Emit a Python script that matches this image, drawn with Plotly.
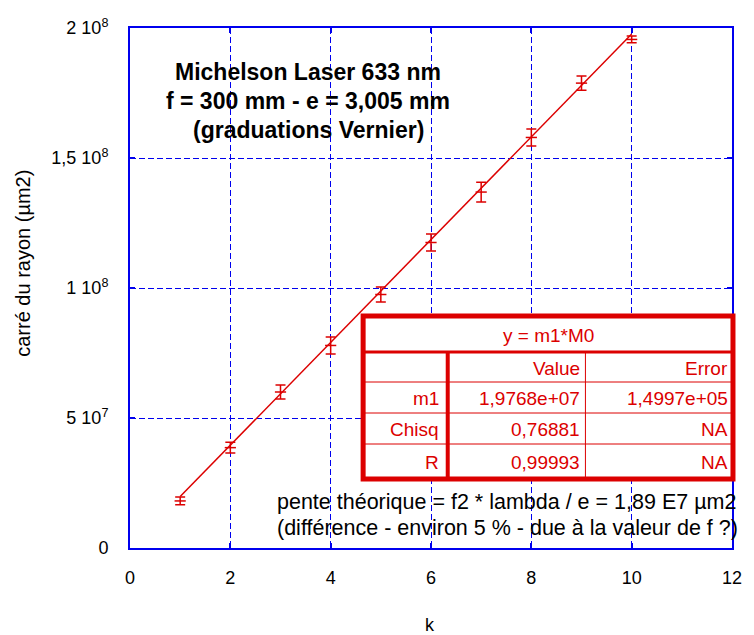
import plotly.graph_objects as go

# ---- data ----
k = [1, 2, 3, 4, 5, 6, 7, 8, 9, 10]
r2 = [0.181e8, 0.386e8, 0.600e8, 0.779e8, 0.975e8, 1.175e8, 1.369e8, 1.579e8, 1.788e8, 1.956e8]
r2_err = [1.5e6, 2.1e6, 2.7e6, 3.3e6, 2.9e6, 3.3e6, 3.8e6, 3.3e6, 2.7e6, 1.3e6]
m1 = 1.9768e7
fit_k = [1, 10]
fit_r2 = [m1 * v for v in fit_k]

x_ticks = [0, 2, 4, 6, 8, 10, 12]
y_ticks = [0, 5e7, 1e8, 1.5e8, 2e8]
y_ticktext = ["0", "5 10<sup>7</sup>", "1 10<sup>8</sup>", "1,5 10<sup>8</sup>", "2 10<sup>8</sup>"]

title_lines = ["Michelson Laser 633 nm", "f = 300 mm - e = 3,005 mm", "(graduations Vernier)"]
note_lines = ["pente théorique = f2 * lambda / e = 1,89 E7 µm2",
              "(différence - environ 5 % - due à la valeur de f ?)"]
table_title = "y = m1*M0"
table_rows = [["", "Value", "Error"],
              ["m1", "1,9768e+07", "1,4997e+05"],
              ["Chisq", "0,76881", "NA"],
              ["R", "0,99993", "NA"]]

RED = "#dc0000"
BLUE = "#0000ee"
FONT = "Liberation Sans, Arial, sans-serif"

W, H = 754, 635
L, R, T, B = 130, 742, 28, 548


def px(x):
    return (x - L) / (R - L)


def py(y):
    return (B - y) / (B - T)


fig = go.Figure()
fig.add_trace(go.Scatter(x=fit_k, y=fit_r2, mode="lines",
                         line=dict(color=RED, width=1.5), showlegend=False,
                         hoverinfo="skip"))
fig.add_trace(go.Scatter(x=k, y=r2, mode="markers",
                         marker=dict(symbol="line-ew", size=8, color=RED,
                                     line=dict(color=RED, width=1.5)),
                         error_y=dict(type="data", array=r2_err, visible=True,
                                      color=RED, thickness=1.5, width=5),
                         showlegend=False))

shapes = []
annotations = []

# title block
for i, t in enumerate(title_lines):
    annotations.append(dict(x=px(311), y=py(72 + i * 29), xref="paper", yref="paper",
                            text="<b>" + t + "</b>", showarrow=False,
                            font=dict(family=FONT, size=23, color="black"),
                            xanchor="center", yanchor="middle"))

# note text
for i, t in enumerate(note_lines):
    annotations.append(dict(x=px(277), y=py(502 + i * 26), xref="paper", yref="paper",
                            text=t, showarrow=False, xanchor="left", yanchor="middle",
                            font=dict(family=FONT, size=21.5, color="black")))

# table
tx0, tx1, ty0, ty1 = 367, 743, 316, 479
shapes.append(dict(type="rect", xref="paper", yref="paper",
                   x0=px(tx0), x1=px(tx1), y0=py(ty1), y1=py(ty0),
                   fillcolor="white", line=dict(color=RED, width=5), layer="above"))
shapes.append(dict(type="line", xref="paper", yref="paper",
                   x0=px(tx0), x1=px(tx1), y0=py(352), y1=py(352),
                   line=dict(color=RED, width=3), layer="above"))
for yy in [382, 413, 444]:
    shapes.append(dict(type="line", xref="paper", yref="paper",
                       x0=px(tx0), x1=px(tx1), y0=py(yy), y1=py(yy),
                       line=dict(color=RED, width=1), layer="above"))
shapes.append(dict(type="line", xref="paper", yref="paper",
                   x0=px(453), x1=px(453), y0=py(352), y1=py(ty1),
                   line=dict(color=RED, width=4), layer="above"))
shapes.append(dict(type="line", xref="paper", yref="paper",
                   x0=px(593), x1=px(593), y0=py(352), y1=py(ty1),
                   line=dict(color=RED, width=1), layer="above"))

annotations.append(dict(x=px(555), y=py(335), xref="paper", yref="paper",
                        text=table_title, showarrow=False, xanchor="center", yanchor="middle",
                        font=dict(family=FONT, size=19, color=RED)))
row_y = [368, 398, 429, 462]
col_right = [446, 590, 740]
for r_i, row in enumerate(table_rows):
    for c_i, cell in enumerate(row):
        if cell:
            annotations.append(dict(x=px(col_right[c_i]), y=py(row_y[r_i]),
                                    xref="paper", yref="paper", text=cell,
                                    showarrow=False, xanchor="right", yanchor="middle",
                                    font=dict(family=FONT, size=19, color=RED)))

# axis titles
annotations.append(dict(x=px(21), y=py(263), xref="paper", yref="paper",
                        text="carré du rayon (µm2)", textangle=-90, showarrow=False,
                        xanchor="center", yanchor="middle",
                        font=dict(family=FONT, size=20, color="black")))
annotations.append(dict(x=px(435), y=py(625), xref="paper", yref="paper",
                        text="k", showarrow=False, xanchor="center", yanchor="middle",
                        font=dict(family=FONT, size=18, color="black")))

axis_common = dict(showline=True, linecolor=BLUE, linewidth=2, mirror="ticks",
                   showgrid=True, gridcolor=BLUE, gridwidth=1, griddash="6px,3px",
                   ticks="inside", ticklen=5, tickcolor=BLUE, tickwidth=1.5,
                   zeroline=False, tickfont=dict(family=FONT, size=18, color="black"))

fig.update_xaxes(range=[0, 12], tickvals=x_ticks, ticktext=[str(v) for v in x_ticks],
                 ticklabelstandoff=12, **axis_common)
fig.update_yaxes(range=[0, 2e8], tickvals=y_ticks, ticktext=y_ticktext,
                 ticklabelstandoff=16, **axis_common)

fig.update_layout(width=W, height=H, margin=dict(l=L, r=W - R, t=T, b=H - B),
                  paper_bgcolor="white", plot_bgcolor="white",
                  shapes=shapes, annotations=annotations,
                  font=dict(family=FONT, size=18, color="black"))

fig.write_html("out.html")
